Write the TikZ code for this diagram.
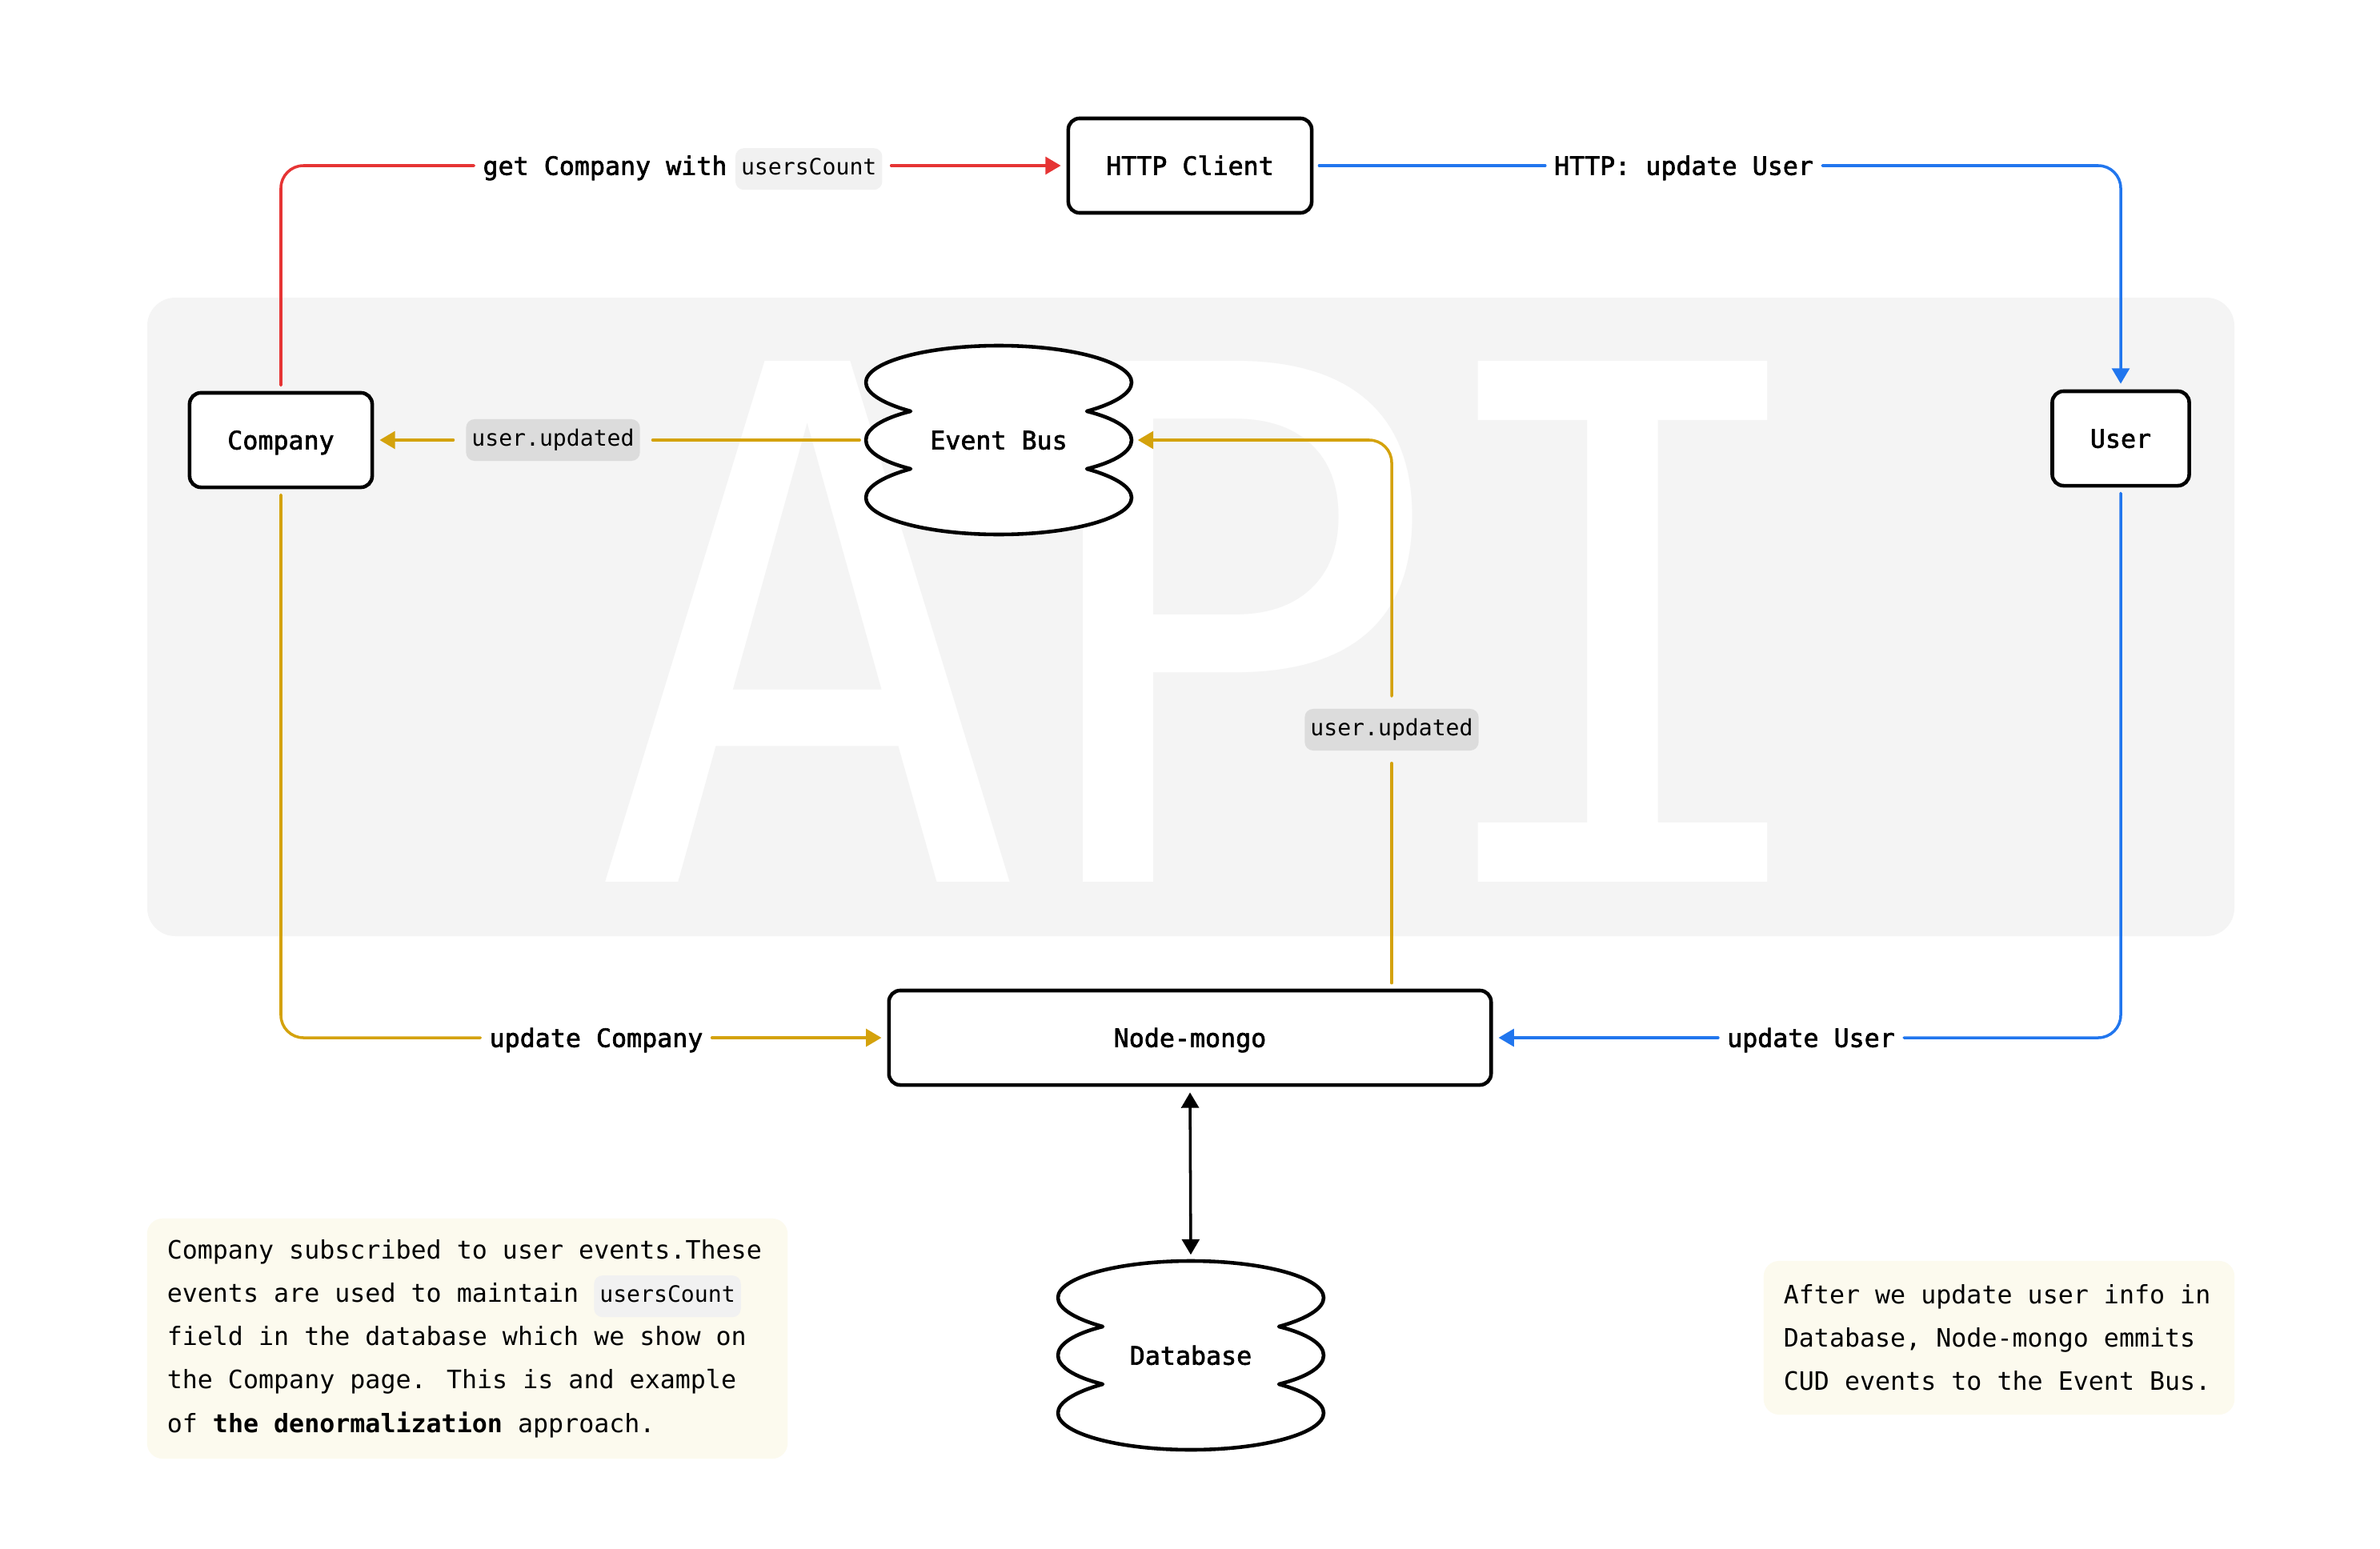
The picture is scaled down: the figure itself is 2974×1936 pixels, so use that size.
\documentclass[tikz,border=0pt]{standalone}
\usepackage{fontspec}
\setmainfont{DejaVu Sans Mono}
\newfontfamily\mediumfont{DejaVu Sans Mono}[FakeBold=2]
\usetikzlibrary{arrows.meta}
\usetikzlibrary{calc}

\newcommand{\codechip}[1]{\tikz[baseline=(c.base)]\node[chip] (c) {#1};}
\newcommand{\stackoutline}[1]{%
\draw [stackline,shift={#1}] (-110,-36) .. controls (-146,-46) and (-166,-59) .. (-166,-72) .. controls (-166,-97) and (-92,-118) .. (0,-118) .. controls (92,-118) and (166,-97) .. (166,-72) .. controls (166,-59) and (146,-46) .. (110,-36) .. controls (146,-27) and (166,-14) .. (166,0) .. controls (166,14) and (146,27) .. (110,36) .. controls (146,46) and (166,59) .. (166,72) .. controls (166,97) and (92,118) .. (0,118) .. controls (-92,118) and (-166,97) .. (-166,72) .. controls (-166,59) and (-146,46) .. (-110,36) .. controls (-146,27) and (-166,14) .. (-166,0) .. controls (-166,-14) and (-146,-27) .. (-110,-36) -- cycle;}

\begin{document}
\begin{tikzpicture}[line cap=round,line join=round,>={Triangle[length=5.5pt,width=6.2pt]},x=0.01cm,y=-0.01cm,
box/.style={draw=black,line width=1.3pt,fill=white,rounded corners=4pt,minimum height=1.18cm,inner sep=0pt,text height=6.6pt,text depth=0pt,font=\mediumfont\fontsize{9}{11}\selectfont},
stacknode/.style={minimum width=3.32cm,minimum height=2.36cm,inner sep=0pt,text height=6.6pt,text depth=0pt,font=\mediumfont\fontsize{9}{11}\selectfont},
stackline/.style={draw=black,line width=1.3pt,fill=white},
edgetext/.style={inner sep=1pt,text height=6.6pt,text depth=0pt,font=\mediumfont\fontsize{9}{11}\selectfont},
chip/.style={shape=rectangle,draw=none,fill=frfrfr,rounded corners=3pt,inner xsep=2pt,inner ysep=3.5pt,text height=6pt,text depth=1.8pt,minimum size=0pt,text width={},outer sep=0pt,font=\normalfont\fontsize{8}{10}\selectfont},
eventchip/.style={chip,fill=dcdcdc,outer sep=2.5pt},
notechip/.style={chip,fill=eeedeu},
conn/.style={line width=1pt,rounded corners=8pt,shorten >=2pt,shorten <=2pt},
note/.style={fill=fcfaee,rounded corners=5.5pt,inner xsep=0.25cm,inner ysep=0pt,align=flush left,font=\fontsize{9}{15.4}\selectfont}]
\definecolor{ewtutu}{rgb}{0.9019607843137255,0.20392156862745098,0.20392156862745098}
\definecolor{srxwee}{rgb}{0.12941176470588237,0.4627450980392157,0.9333333333333333}
\definecolor{duasqc}{rgb}{0.8313725490196079,0.6352941176470588,0.047058823529411764}
\definecolor{fufufu}{rgb}{0.9568627450980393,0.9568627450980393,0.9568627450980393}
\definecolor{dcdcdc}{rgb}{0.8627450980392157,0.8627450980392157,0.8627450980392157}
\definecolor{frfrfr}{rgb}{0.9450980392156862,0.9450980392156862,0.9450980392156862}
\definecolor{fcfaee}{rgb}{0.9882352941176471,0.9803921568627451,0.9333333333333333}
\definecolor{eeedeu}{rgb}{0.9333333333333333,0.9294117647058824,0.8941176470588236}
\useasboundingbox (0,0) rectangle (2974,1936);
\fill [white] (0,0) rectangle (2974,1936);
% API area
\fill [fufufu,rounded corners=10pt] (184,372) rectangle (2792,1170);
\node [text=white,anchor=base west,inner sep=0pt,font=\fontsize{254}{254}\selectfont] (apitext) at (740,1102) {A\kern-3.1pt P\kern-13pt I};
% stacks
\stackoutline{(1248,550)}
\node [stacknode] (bus) at (1248,550) {Event Bus};
\stackoutline{(1488,1694)}
\node [stacknode] (db) at (1488,1694) {Database};
% boxes
\node [box,minimum width=3.04cm] (http) at (1487,207) {HTTP Client};
\node [box,minimum width=2.28cm] (company) at (351,550) {Company};
\node [box,minimum width=1.71cm] (user) at (2650,548) {User};
\node [box,minimum width=7.52cm] (mongo) at (1487,1297) {Node-mongo};
% labels
\node [edgetext] (getlbl) at (853,207) {get Company with\hspace{3pt}\codechip{usersCount}};
\node [edgetext] (httplbl) at (2104,207) {HTTP: update User};
\node [eventchip] (buslbl) at (691,550) {user.updated};
\node [eventchip] (mongolbl) at (1739,912) {user.updated};
\node [edgetext] (complbl) at (745,1297) {update Company};
\node [edgetext] (userlbl) at (2263,1297) {update User};
% connectors
\draw [conn,ewtutu] (company.north) |- (getlbl.west);
\draw [conn,ewtutu,->] (getlbl.east) -- (http.west);
\draw [conn,srxwee] (http.east) -- (httplbl.west);
\draw [conn,srxwee,->] (httplbl.east) -| (user.north);
\draw [conn,duasqc] (bus.west) -- (buslbl.east);
\draw [conn,duasqc,->] (buslbl.west) -- (company.east);
\draw [conn,duasqc] (mongolbl.south |- mongo.north) -- (mongolbl.south);
\draw [conn,duasqc,->] (mongolbl.north) |- (bus.east);
\draw [conn,duasqc] (company.south) |- (complbl.west);
\draw [conn,duasqc,->] (complbl.east) -- (mongo.west);
\draw [conn,srxwee] (user.south) |- (userlbl.east);
\draw [conn,srxwee,->] (userlbl.west) -- (mongo.east);
\draw [conn,black,<->] (mongo.south) -- (db.north);
% notes
\node [note,text width=7.5cm,minimum height=3cm] (noteleft) at (584,1673) {Company subscribed to user events.These\\events are used to maintain \codechip{usersCount}\\field in the database which we show on\\the Company page. This is and example\\of \textbf{the denormalization} approach.};
\node [note,text width=5.38cm,minimum height=1.92cm] (noteright) at (2498,1672) {After we update user info in\\Database, Node-mongo emmits\\CUD events to the Event Bus.};
\end{tikzpicture}
\end{document}
